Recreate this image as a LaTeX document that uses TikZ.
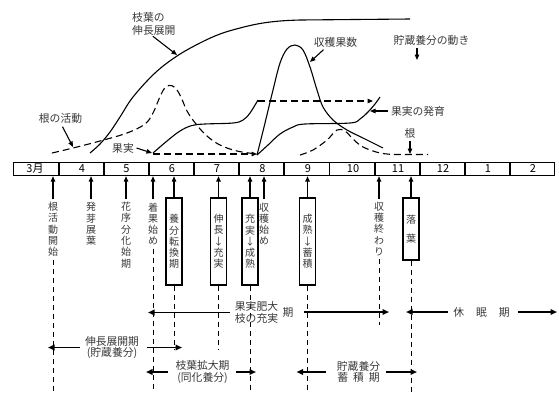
\documentclass[tikz,border=0pt]{standalone}
\usepackage{fontspec}
\setmainfont{Noto Sans CJK JP}
\usetikzlibrary{arrows.meta}
\tikzset{
  curve/.style={line width=1.1bp, line join=round},
  dcurve/.style={line width=1.1bp, dash pattern=on 7bp off 4bp},
  vdash/.style={line width=1bp, dash pattern=on 5bp off 4bp},
  arrtip/.style={-{Triangle[length=5.5bp,width=4.5bp]}},
  uparr/.style={line width=1.3bp, arrtip},
  larr/.style={line width=1.1bp, arrtip},
  harr/.style={line width=1.8bp, -{Triangle[length=6.5bp,width=5.5bp]}},
  txt/.style={text=black!78, inner sep=0pt, font=\fontsize{10.8bp}{11.5bp}\selectfont},
  lab/.style={txt, inner sep=2.5bp},
  vtxt/.style={text=black!78, align=center, inner xsep=0pt, inner ysep=3bp, font=\fontsize{10bp}{11.3bp}\selectfont},
  vbox/.style={vtxt, draw=black, line width=1.1bp, minimum width=16bp, minimum height=87bp},
  month/.style={inner sep=0pt, font=\fontsize{11bp}{12bp}\selectfont},
}
\begin{document}
\begin{tikzpicture}[x=1bp,y=-1bp]
\useasboundingbox (0,0) rectangle (559,392);

% ---------- month bar ----------
\node[draw, line width=1.2bp, minimum width=541bp, minimum height=13bp, anchor=north west, inner sep=0pt] (bar) at (13,162) {};
\foreach \x in {59,104,149,194,239,284,329.5,375,420,465,510}
  \draw[line width=1.2bp] (\x,162) -- (\x,175);
\foreach \t/\x [count=\i] in {3月/35,4/82,5/126.5,6/172,7/217,8/262.5,9/308,10/353,11/398,12/443,1/488,2/533}
  \node[month] (mon\i) at (\x,168.5) {\t};

% ---------- named helper coordinates ----------
\coordinate (bottom) at (0,392);
\coordinate (mid) at (0,349);
\coordinate (upper) at (0,325);
\coordinate (rend) at (557,312);

% ---------- event labels below the bar ----------
\node[vtxt] (t1) at (53,229.5) {根\\活\\動\\開\\始};
\node[vtxt] (t2) at (91,224) {発\\芽\\展\\葉};
\node[vtxt] (t3) at (126,235) {花\\序\\分\\化\\始\\期};
\node[vtxt] (t4) at (153,224) {着\\果\\始\\め};
\node[vtxt] (t5) at (264,224) {収\\穫\\始\\め};
\node[vtxt] (t6) at (379,229) {収\\穫\\終\\わ\\り};

\node[vbox] (b1) at (174,241.5) {養\\分\\転\\換\\期};
\node[vbox] (b2) at (218.5,241.5) {伸\\長\\↓\\充\\実};
\node[vbox] (b3) at (250,241.5) {充\\実\\↓\\成\\熟};
\node[vbox] (b4) at (307.5,241.5) {成\\熟\\↓\\蓄\\積};
\node[vbox, minimum height=62bp] (b5) at (411,229) {落\\[8bp]葉};

\foreach \n in {t1,t2,t3,t4,t5,t6,b1,b2,b3,b4,b5}
  \draw[uparr] (\n.north) -- (\n.north |- bar.south);

% dashed verticals
\draw[vdash] (t1.south) -- (t1.south |- bottom);
\draw[vdash] (t4.south) -- (t4.south |- bottom);
\draw[vdash] (t6.south) -- (t6.south |- upper);
\draw[vdash] (b1.south) -- (b1.south |- mid);
\draw[vdash] (b2.south) -- (b2.south |- mid);
\draw[vdash] (b3.south) -- (b3.south |- bottom);
\draw[vdash] (b4.south) -- (b4.south |- bottom);
\draw[vdash] (b5.south) -- (b5.south |- bottom);

% ---------- period arrows ----------
\node[txt, align=center] (h1) at (256.5,312.5) {果実肥大\\枝の充実};
\node[txt] (h1k) at (288,312) {期};
\draw[harr] ([xshift=-5bp]h1.west) -- ([xshift=-5bp]h1.west -| t4.south);
\draw[harr] ([xshift=10bp]h1k.east) -- ([xshift=10bp]h1k.east -| t6.south);

\node[txt] (h2) at (481.5,312) {休\hspace{12bp}眠\hspace{12bp}期};
\draw[harr] ([xshift=-5bp]h2.west) -- ([xshift=-5bp]h2.west -| b5.south);
\draw[harr] ([xshift=8bp]h2.east) -- (rend);

\node[txt, align=center] (h3) at (112,347.5) {伸長展開期\\(貯蔵養分)};
\draw[harr] ([xshift=-5bp]h3.west) -- ([xshift=-5bp]h3.west -| t1.south);
\draw[harr] ([xshift=8bp]h3.east) -- ([xshift=8bp]h3.east -| b1.south);

\node[txt, align=center] (h4) at (202.5,372) {枝葉拡大期\\(同化養分)};
\draw[harr] ([xshift=-7bp]h4.west) -- ([xshift=-7bp]h4.west -| t4.south);
\draw[harr] ([xshift=6bp]h4.east) -- ([xshift=6bp]h4.east -| b3.south);

\node[txt, align=center] (h5) at (358.5,372) {貯蔵養分\\蓄\hspace{5bp}積\hspace{5bp}期};
\draw[harr] ([xshift=-11bp]h5.west) -- ([xshift=-11bp]h5.west -| b4.south);
\draw[harr] ([xshift=6bp]h5.east) -- ([xshift=6bp]h5.east -| b5.south);

% ---------- curves above the bar ----------
% shoot growth
\draw[curve] plot[smooth, tension=0.6] coordinates {(90,153) (100,144) (110,132) (120,117) (133,97) (155,73) (177,56) (200,43) (220,34) (240,28) (260,23.5) (280,21) (300,20)} -- (410,19);
% root activity
\draw[dcurve] plot[smooth, tension=0.6] coordinates {(52,153) (73,148) (100,141) (127,133) (145,124) (153,113) (159,99) (164,89) (169,85.5) (175,87.5) (181,97) (187,111) (196,124) (207,136) (220,145) (237,151) (257,154)};
\draw[dcurve] plot[smooth, tension=0.6] coordinates {(300,155) (313,150) (327,140) (337,130) (345,131) (353,139) (363,147) (380,153) (395,154.5)} -- (428,154.5);
% fruit growth
\draw[curve] plot[smooth, tension=0.6] coordinates {(153,153) (167,141) (180,131) (192,125.5) (205,124) (233,123) (243,120) (250,113) (258,100)};
\draw[dcurve, arrtip] (258,101) -- (373,101);
\draw[curve] plot[smooth, tension=0.6] coordinates {(257,155) (268,145) (280,134) (293,127) (305,124) (350,123) (360,119) (368,112) (375,104) (380,97)};
\draw[dcurve, arrtip] (153,154) -- (257,154);
% harvest count
\draw[curve] plot[smooth, tension=0.55] coordinates {(257,155) (265,123) (273,90) (280,63) (287,49) (295,45) (303,50) (310,67) (317,90) (323,107) (333,120) (347,130) (363,138) (383,148)};

% ---------- curve labels ----------
\coordinate (c1) at (177,55);
\coordinate (c2) at (73,147);
\coordinate (c3) at (152,153);
\coordinate (c4) at (310,62);
\coordinate (c5) at (370,111);
\coordinate (c6) at (417,60);
\coordinate (c7) at (410,154);

\node[txt, align=left, anchor=west, font=\fontsize{10.8bp}{13bp}\selectfont] (L1) at (132,23.5) {枝葉の\\伸長展開};
\draw[larr] (L1.south) ++(-1,1) -- (c1);
\node[lab] (L2) at (60.5,118) {根の活動};
\draw[larr] (L2.south) ++(2,1) -- (c2);
\node[lab] (L3) at (123,148) {果実};
\draw[larr] (L3.east) -- (c3);
\node[lab] (L4) at (335.5,42) {収穫果数};
\draw[larr] (L4.south) ++(-12,0) -- (c4);
\node[lab] (L5) at (418,111) {果実の発育};
\draw[larr] (L5.west) -- (c5);
\node[lab] (L6) at (431.5,40) {貯蔵養分の動き};
\draw[larr] (L6.south -| c6) -- (c6);
\node[lab] (L7) at (410,133) {根};
\draw[larr] (L7.south) -- (c7);
\end{tikzpicture}
\end{document}
